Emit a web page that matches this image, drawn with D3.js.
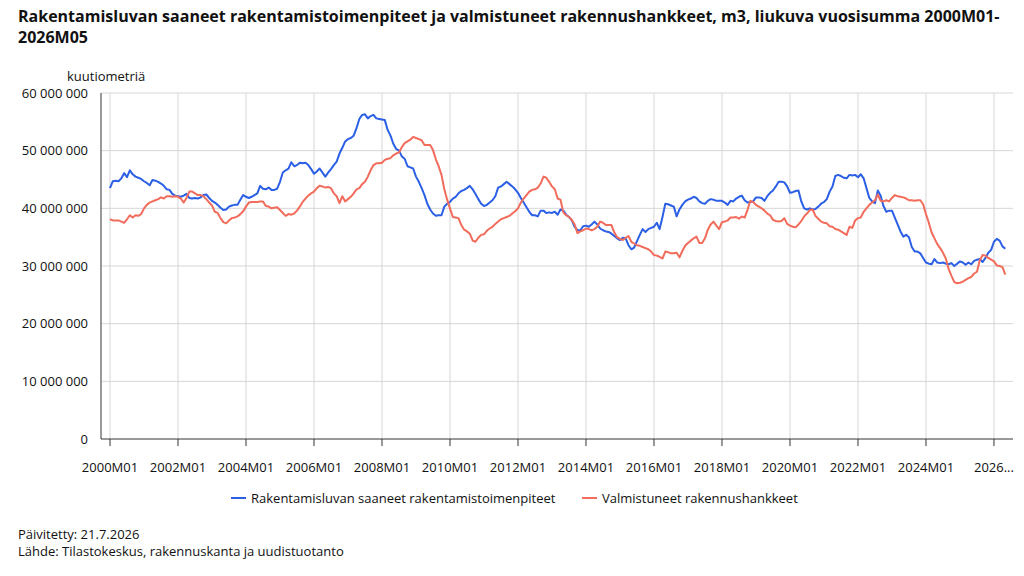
<!DOCTYPE html>
<html>
<head>
<meta charset="utf-8">
<script src="https://cdn.jsdelivr.net/npm/d3@7"></script>
<style>
    body { margin: 0; background: #fff; }
    text { font-family: "Open Sans", "Segoe UI", sans-serif; fill: #111; }
</style>
</head>
<body>
<div id="chart"></div>
<script>

// Data: rolling 12-month sums, million m3, 2000M01 .. 2026M05
const firstYear = 2000;
const seriesNames = ["Rakentamisluvan saaneet rakentamistoimenpiteet", "Valmistuneet rakennushankkeet"];
const seriesColors = ["#2b5fe6", "#f26c5c"];
const tickLabels = ["2000M01", "2002M01", "2004M01", "2006M01", "2008M01", "2010M01", "2012M01",
    "2014M01", "2016M01", "2018M01", "2020M01", "2022M01", "2024M01", "2026M01"];
const yTicks = [0, 10, 20, 30, 40, 50, 60];

const permits = [
    43.5, 44.7, 44.8, 44.7, 45.2, 46.1, 45.4, 46.6, 45.9, 45.5, 45.3, 45.1,
    44.7, 44.4, 44.0, 44.9, 44.8, 44.6, 44.3, 43.9, 43.3, 43.2, 42.5, 42.2,
    42.1, 42.0, 42.2, 42.5, 41.8, 41.7, 41.8, 41.7, 41.9, 42.3, 42.4, 41.8,
    41.3, 41.0, 40.6, 40.1, 39.7, 39.8, 40.3, 40.5, 40.6, 40.6, 41.5, 42.3,
    42.0, 41.8, 42.0, 42.3, 42.6, 43.9, 43.4, 43.3, 43.6, 43.2, 43.2, 43.4,
    44.6, 46.2, 46.6, 46.9, 48.0, 47.3, 47.5, 47.9, 47.8, 47.9, 47.5, 46.8,
    46.0, 46.4, 46.9, 46.2, 45.5, 46.2, 46.8, 47.5, 48.1, 49.5, 50.5, 51.6,
    52.0, 52.2, 52.6, 53.9, 55.5, 56.2, 56.3, 55.6, 56.0, 56.2, 55.6, 55.5,
    55.4, 55.3, 53.6, 52.6, 51.2, 50.3, 50.0, 49.0, 48.6, 47.3, 47.1, 46.9,
    45.5, 44.6, 43.5, 42.3, 40.8, 39.8, 39.1, 38.7, 38.8, 38.8, 40.3, 40.8,
    41.1, 41.7, 42.0, 42.6, 43.0, 43.2, 43.5, 43.9, 43.3, 42.5, 41.6, 40.8,
    40.4, 40.6, 41.0, 41.4, 42.1, 43.6, 43.8, 44.2, 44.6, 44.2, 43.8, 43.3,
    42.7, 41.8, 41.0, 40.2, 39.4, 38.8, 38.8, 38.6, 39.6, 39.6, 39.2, 39.3,
    39.2, 39.4, 38.9, 39.8, 39.6, 38.9, 38.5, 37.9, 36.8, 36.2, 36.2, 36.9,
    37.0, 36.8, 37.2, 37.7, 37.2, 36.5, 36.2, 36.0, 35.9, 35.6, 35.2, 34.8,
    34.5, 34.9, 34.8, 33.6, 32.9, 33.2, 34.3, 35.4, 36.4, 35.9, 36.4, 36.6,
    36.8, 37.5, 36.4, 38.5, 40.8, 40.7, 40.5, 40.3, 38.6, 39.8, 40.6, 41.2,
    41.5, 41.7, 42.0, 41.8, 41.2, 40.9, 40.8, 41.3, 41.6, 41.5, 41.3, 41.3,
    41.3, 41.0, 40.6, 41.3, 41.2, 41.7, 42.0, 42.2, 41.4, 41.0, 41.1, 41.2,
    41.9, 41.9, 41.8, 41.3, 42.1, 42.7, 43.1, 43.8, 44.6, 44.6, 44.5, 43.8,
    42.7, 42.8, 43.0, 43.1, 41.2, 40.0, 39.8, 40.0, 39.8, 39.9, 40.3, 40.8,
    41.1, 41.6, 42.9, 43.8, 45.6, 45.8, 45.6, 45.3, 45.2, 45.8, 45.7, 45.8,
    45.4, 45.9, 45.2, 43.5, 41.8, 41.2, 40.9, 43.1, 42.2, 40.4, 39.4, 39.6,
    39.6, 38.4, 37.2, 36.0, 35.1, 35.4, 35.0, 33.3, 32.5, 32.5, 32.2, 31.4,
    30.6, 30.4, 30.3, 31.2, 30.6, 30.5, 30.6, 30.4, 30.3, 30.5, 30.0, 30.4,
    30.8, 30.6, 30.2, 30.6, 30.3, 30.9, 31.1, 31.2, 30.7, 31.4, 32.3, 32.8,
    34.2, 34.7, 34.4, 33.4, 33.0
];

const completed = [
    38.1, 37.9, 37.9, 37.9, 37.7, 37.5, 38.1, 38.8, 38.4, 38.8, 38.7, 39.0,
    40.0, 40.6, 41.0, 41.2, 41.4, 41.6, 41.9, 41.7, 42.1, 42.1, 42.0, 42.1,
    42.0, 41.7, 41.0, 41.8, 42.9, 42.9, 42.6, 42.3, 42.3, 42.1, 41.6, 41.0,
    40.5, 39.4, 39.2, 38.3, 37.6, 37.4, 37.9, 38.3, 38.4, 38.6, 39.0, 39.5,
    40.3, 41.0, 41.1, 41.1, 41.1, 41.2, 41.2, 40.4, 40.3, 40.0, 40.1, 40.2,
    39.7, 39.2, 38.7, 39.0, 38.9, 39.1, 39.6, 40.3, 41.1, 41.7, 42.2, 42.6,
    42.9, 43.5, 43.9, 43.8, 43.6, 43.7, 43.5, 42.6, 42.1, 40.9, 42.1, 41.2,
    41.6, 42.0, 42.6, 43.3, 43.5, 44.2, 44.6, 45.5, 46.6, 47.5, 47.8, 47.8,
    47.9, 48.4, 48.6, 48.7, 49.2, 49.5, 49.7, 50.6, 51.3, 51.6, 51.9, 52.4,
    52.2, 52.0, 51.8, 51.0, 51.0, 51.0, 50.1, 48.5, 47.3, 45.8, 43.3, 41.5,
    40.0, 38.5, 38.4, 38.3, 37.1, 36.3, 36.0, 35.6, 34.4, 34.2, 34.9, 35.4,
    35.5, 36.1, 36.5, 36.8, 37.3, 37.7, 38.1, 38.3, 38.5, 38.7, 39.1, 39.5,
    40.0, 41.0, 41.7, 42.3, 42.9, 43.2, 43.3, 43.6, 44.3, 45.5, 45.3, 44.6,
    43.8, 43.3, 41.7, 41.5, 39.3, 38.8, 38.5, 38.0, 37.2, 35.7, 36.0, 36.2,
    36.5, 36.4, 36.2, 36.4, 36.8, 37.7, 37.5, 37.1, 37.1, 37.1, 35.8, 35.0,
    34.7, 34.5, 34.9, 35.2, 34.2, 33.9, 33.6, 33.5, 33.3, 33.1, 32.9, 32.5,
    31.9, 31.8, 31.6, 31.3, 32.5, 32.4, 32.2, 32.2, 32.3, 31.5, 32.6, 33.5,
    34.0, 34.4, 34.8, 35.1, 34.0, 34.0, 34.8, 36.3, 37.2, 37.7, 37.0, 36.4,
    37.6, 37.7, 37.9, 38.4, 38.4, 38.5, 38.2, 38.6, 38.4, 39.7, 41.3, 41.1,
    40.6, 40.3, 40.0, 39.6, 39.1, 38.8, 38.0, 37.8, 37.7, 37.8, 38.3, 37.3,
    37.0, 36.8, 36.7, 37.2, 37.8, 38.6, 39.1, 39.7, 39.8, 38.7, 38.2, 37.7,
    37.5, 37.4, 36.9, 36.8, 36.4, 36.3, 36.0, 35.7, 35.4, 36.8, 36.6, 37.9,
    38.3, 38.4, 39.4, 40.0, 40.6, 41.0, 41.4, 42.4, 41.3, 41.2, 41.4, 41.2,
    41.8, 42.3, 42.1, 42.0, 41.9, 41.7, 41.4, 41.4, 41.3, 41.4, 41.4, 40.7,
    39.0, 37.5, 35.8, 34.8, 33.8, 33.1, 32.3, 31.3, 29.5, 28.3, 27.2, 27.0,
    27.1, 27.3, 27.6, 27.9, 28.1, 28.7, 29.0, 31.0, 31.9, 31.8, 31.4, 31.1,
    30.8, 30.1, 30.0, 29.8, 28.5
];

const width = 1024, height = 576;
const plot = { left: 101, right: 1013, top: 93, bottom: 439 };

const svg = d3.select("#chart").append("svg")
    .attr("width", width)
    .attr("height", height);

// month index -> x, first and last months sit a bit inside the frame
const x = d3.scaleLinear()
    .domain([0, permits.length - 1])
    .range([110, 1005.3]);

const y = d3.scaleLinear()
    .domain([0, 60])
    .range([plot.bottom, plot.top]);

const fi = d3.formatLocale({ decimal: ",", thousands: "\u00a0", grouping: [3], currency: ["", ""] });
const fmt = v => fi.format(",")(Math.round(v * 1e6));

// title
const title = svg.append("text")
    .attr("x", 18)
    .style("font-size", "16px")
    .style("font-weight", "bold");
const t1 = title.append("tspan").attr("x", 18).attr("y", 22)
    .text("Rakentamisluvan saaneet rakentamistoimenpiteet ja valmistuneet rakennushankkeet, m3, liukuva vuosisumma 2000M01-");
title.append("tspan").attr("x", 18).attr("y", 43).text("2026M05");

// shrink the title a little if the fallback font runs wider than the original
const tw = t1.node().getComputedTextLength();
if (tw > 982) title.style("font-size", (16 * 982 / tw).toFixed(2) + "px");

svg.append("text")
    .attr("x", 67).attr("y", 81)
    .style("font-size", "13px")
    .text("kuutiometriä");

// grid
svg.append("g")
    .selectAll("line")
    .data(yTicks.filter(d => d > 0))
    .join("line")
    .attr("x1", plot.left).attr("x2", plot.right)
    .attr("y1", d => y(d)).attr("y2", d => y(d))
    .attr("stroke", "#d6d6d6");

const tickIdx = tickLabels.map(t => (+t.slice(0, 4) - firstYear) * 12);

svg.append("g")
    .selectAll("line")
    .data(tickIdx)
    .join("line")
    .attr("x1", d => x(d)).attr("x2", d => x(d))
    .attr("y1", plot.top).attr("y2", plot.bottom)
    .attr("stroke", "#d6d6d6");

// y labels
svg.append("g")
    .selectAll("text")
    .data(yTicks)
    .join("text")
    .attr("x", 88)
    .attr("y", d => y(d) + 4.5)
    .attr("text-anchor", "end")
    .style("font-size", "13px")
    .text(fmt);

// axes
svg.append("line")
    .attr("x1", plot.left).attr("x2", plot.left)
    .attr("y1", plot.top).attr("y2", plot.bottom)
    .attr("stroke", "#777").attr("stroke-width", 1.5);

svg.append("line")
    .attr("x1", plot.left).attr("x2", plot.right)
    .attr("y1", plot.bottom).attr("y2", plot.bottom)
    .attr("stroke", "#333");

svg.append("g")
    .selectAll("line")
    .data(tickIdx)
    .join("line")
    .attr("x1", d => x(d)).attr("x2", d => x(d))
    .attr("y1", plot.bottom).attr("y2", plot.bottom + 7)
    .attr("stroke", "#333");

svg.append("g")
    .selectAll("text")
    .data(tickLabels)
    .join("text")
    .attr("x", (d, i) => x(tickIdx[i]))
    .attr("y", 472)
    .attr("text-anchor", "middle")
    .style("font-size", "13px")
    .text((d, i) => i === tickLabels.length - 1 ? d.slice(0, 4) + "..." : d);

// lines
const line = d3.line()
    .x((d, i) => x(i))
    .y(d => y(d));

[permits, completed].forEach((s, k) => {
    svg.append("path")
        .datum(s)
        .attr("fill", "none")
        .attr("stroke", seriesColors[k])
        .attr("stroke-width", 2)
        .attr("stroke-linejoin", "round")
        .attr("d", line);
});

// legend
const legendX = [231, 582];
seriesNames.forEach((name, k) => {
    svg.append("line")
        .attr("x1", legendX[k]).attr("x2", legendX[k] + 15)
        .attr("y1", 498).attr("y2", 498)
        .attr("stroke", seriesColors[k]).attr("stroke-width", 2);
    svg.append("text")
        .attr("x", legendX[k] + 20).attr("y", 502.5)
        .style("font-size", "13px")
        .text(name);
});

// footer
svg.append("text").attr("x", 18).attr("y", 539)
    .style("font-size", "13px")
    .text("Päivitetty: 21.7.2026");
svg.append("text").attr("x", 18).attr("y", 556)
    .style("font-size", "13px")
    .text("Lähde: Tilastokeskus, rakennuskanta ja uudistuotanto");

</script>
</body>
</html>
